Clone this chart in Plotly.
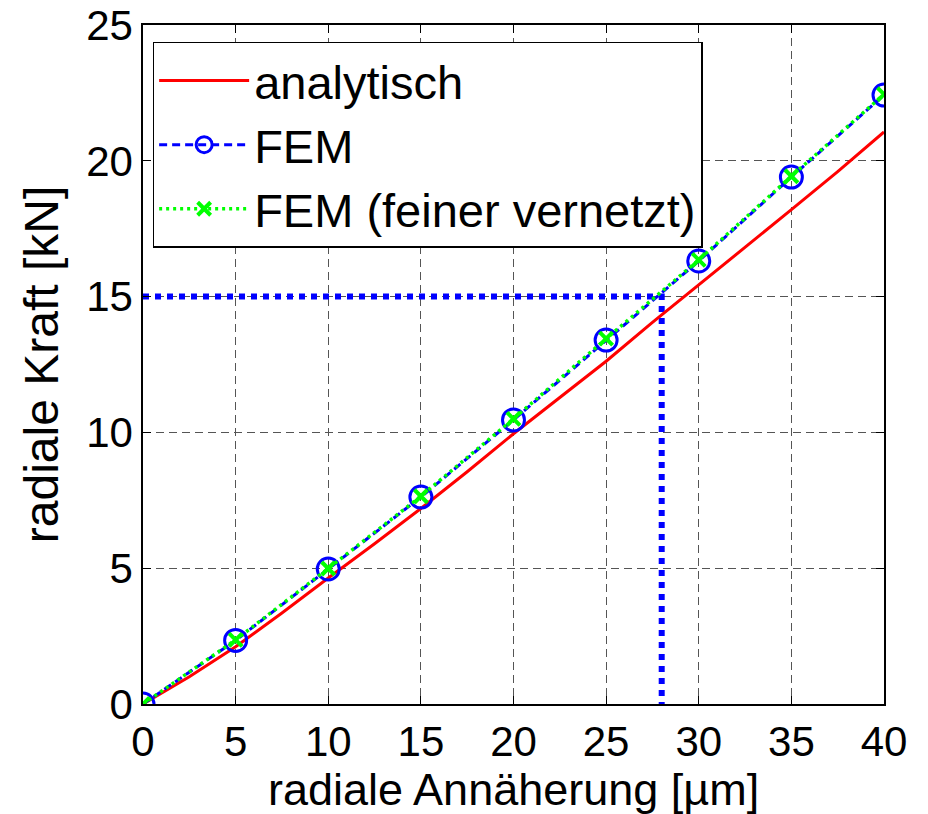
import plotly.graph_objects as go

# Data
x_fem = [0, 5, 10, 15, 20, 25, 30, 35, 40]
y_fem = [0.0, 2.34, 4.97, 7.62, 10.46, 13.4, 16.31, 19.4, 22.42]
y_fem_fein = [0.0, 2.36, 4.99, 7.65, 10.5, 13.45, 16.35, 19.43, 22.45]
x_ana = [0, 2.5, 5, 7.5, 10, 12.5, 15, 17.5, 20, 22.5, 25, 27.5, 30, 32.5, 35, 37.5, 40]
y_ana = [0.0, 1.0, 2.11, 3.35, 4.64, 5.9, 7.2, 8.55, 9.95, 11.3, 12.62, 14.05, 15.43, 16.8, 18.2, 19.6, 21.06]
x_mark = [0, 28, 28]
y_mark = [15, 15, 0]

x_ticks = [0, 5, 10, 15, 20, 25, 30, 35, 40]
y_ticks = [0, 5, 10, 15, 20, 25]

x_title = "radiale Annäherung [µm]"
y_title = "radiale Kraft [kN]"

FONT = "Liberation Sans, Arial, sans-serif"
FS = 48
FS_TICK = 42
FS_XTITLE = 45
FS_LEG = 47

fig = go.Figure()
fig.add_trace(go.Scatter(x=x_mark, y=y_mark, mode="lines",
                         line=dict(color="#0000ff", width=6, dash="dot"),
                         showlegend=False, hoverinfo="skip"))
fig.add_trace(go.Scatter(x=x_ana, y=y_ana, mode="lines", name="analytisch",
                         line=dict(color="#ff0000", width=3)))
fig.add_trace(go.Scatter(x=x_fem, y=y_fem, mode="lines+markers", name="FEM",
                         line=dict(color="#0000ff", width=3, dash="8px,5px"),
                         marker=dict(symbol="circle-open", size=22, color="#0000ff",
                                     line=dict(width=3, color="#0000ff"))))
fig.add_trace(go.Scatter(x=x_fem, y=y_fem_fein, mode="lines+markers",
                         name="FEM (feiner vernetzt)",
                         line=dict(color="#00ff00", width=3.5, dash="3px,4px"),
                         marker=dict(symbol="x-thin-open", size=13, color="#00ff00",
                                     line=dict(width=4, color="#00ff00"))))

axis_common = dict(
    showline=True, linecolor="black", linewidth=1.5, mirror="allticks",
    ticks="inside", ticklen=8, tickcolor="black", tickwidth=1,
    showgrid=True, gridcolor="#555555", gridwidth=1, griddash="8px,5px",
    zeroline=False, automargin=False, ticklabeloverflow="allow",
    tickfont=dict(family=FONT, size=FS_TICK, color="black"),
)

fig.update_layout(
    width=928, height=814,
    margin=dict(l=143, r=44, t=25, b=110, autoexpand=False),
    paper_bgcolor="white", plot_bgcolor="white",
    font=dict(family=FONT, size=FS, color="black"),
    xaxis=dict(range=[0, 40], tickvals=x_ticks, ticktext=[str(v) for v in x_ticks],
               **axis_common),
    yaxis=dict(range=[0, 25], tickvals=y_ticks, ticktext=[str(v) for v in y_ticks],
               title=dict(text=y_title, standoff=12,
                          font=dict(family=FONT, size=FS, color="black")),
               **axis_common),
    legend=dict(x=0.013, y=0.975, xanchor="left", yanchor="top",
                bgcolor="white", bordercolor="black", borderwidth=1.5,
                font=dict(family=FONT, size=FS_LEG, color="black"),
                tracegroupgap=0, itemwidth=90),
    showlegend=True,
    annotations=[dict(text=x_title, xref="paper", yref="paper", x=0.5, y=0,
                      xanchor="center", yanchor="middle", yshift=-85,
                      showarrow=False,
                      font=dict(family=FONT, size=FS_XTITLE, color="black"))],
)

fig.write_html("out.html")
